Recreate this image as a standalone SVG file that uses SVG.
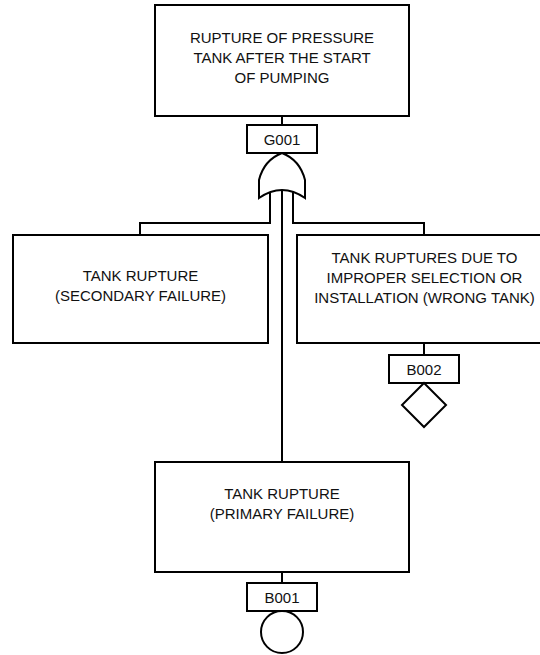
<svg xmlns="http://www.w3.org/2000/svg" width="540" height="655" viewBox="0 0 540 655">
<style>
.box{fill:#fff;stroke:#000;stroke-width:2}
.ln{fill:none;stroke:#000;stroke-width:2}
text{font-family:"Liberation Sans",Arial,sans-serif;font-size:15px;fill:#111;text-anchor:middle}
</style>
<rect width="540" height="655" fill="#fff"/>
<g id="connectors">
<path class="ln" d="M282,116V125"/>
<path class="ln" d="M270,190V223H140V235"/>
<path class="ln" d="M293,190V223H424V235"/>
<path class="ln" d="M282,188V462"/>
<path class="ln" d="M424,343V355"/>
<path class="ln" d="M282,572V583"/>
</g>
<g id="top">
<rect class="box" x="155" y="5" width="254" height="111"/>
<text x="282" y="43">RUPTURE OF PRESSURE</text>
<text x="282" y="63">TANK AFTER THE START</text>
<text x="282" y="83">OF PUMPING</text>
</g>
<g id="G001">
<rect class="box" x="247" y="125" width="70" height="28"/>
<text x="282" y="145">G001</text>
<path class="box" d="M282,153Q300,160 305,180V198Q282,182 259,198V180Q264,160 282,153Z"/>
</g>
<g id="secondary">
<rect class="box" x="13" y="235" width="255" height="108"/>
<text x="140.5" y="281">TANK RUPTURE</text>
<text x="140.5" y="301">(SECONDARY FAILURE)</text>
</g>
<g id="wrongtank">
<rect class="box" x="297" y="235" width="255" height="108"/>
<text x="424.5" y="263">TANK RUPTURES DUE TO</text>
<text x="424.5" y="283">IMPROPER SELECTION OR</text>
<text x="424.5" y="303">INSTALLATION (WRONG TANK)</text>
</g>
<g id="B002">
<rect class="box" x="389" y="355" width="70" height="28"/>
<text x="424" y="375">B002</text>
<path class="box" d="M424,383L446,405L424,427L402,405Z"/>
</g>
<g id="primary">
<rect class="box" x="155" y="462" width="254" height="110"/>
<text x="282" y="499">TANK RUPTURE</text>
<text x="282" y="519">(PRIMARY FAILURE)</text>
</g>
<g id="B001">
<rect class="box" x="247" y="583" width="70" height="28"/>
<text x="282" y="603">B001</text>
<circle class="box" cx="282" cy="632" r="21"/>
</g>
</svg>
